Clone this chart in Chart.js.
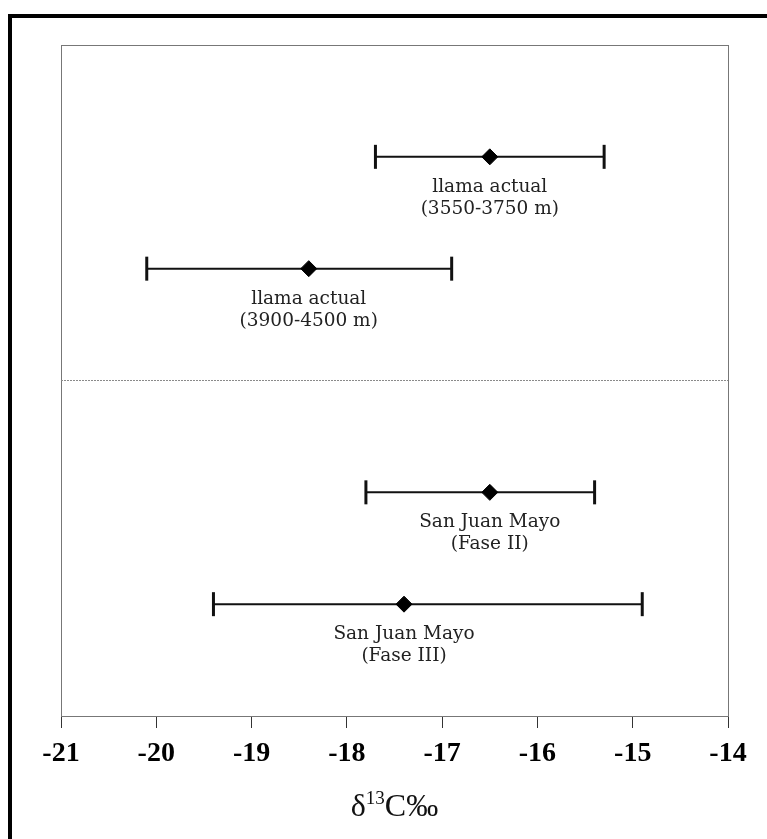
<!DOCTYPE html>
<html lang="es">
<head>
<meta charset="UTF-8">
<title>δ13C llama actual / San Juan Mayo</title>
<script src="https://cdn.jsdelivr.net/npm/chart.js"></script>
<style>
  html, body { margin: 0; padding: 0; background: #fff; overflow: hidden; }
  .frame {
    position: absolute; left: 8px; top: 14px;
    width: 755px; height: 821px;
    border-left: 4px solid #000; border-top: 4px solid #000;
  }
  #chart { position: absolute; left: 0; top: 0; }
</style>
</head>
<body>
<div class="frame"></div>
<canvas id="chart" width="767" height="839"></canvas>
<script>
// values (δ13C ‰, mean and range)
const groups = ['llama actual', 'llama actual', 'San Juan Mayo', 'San Juan Mayo'];
const subLabels = ['(3550-3750 m)', '(3900-4500 m)', '(Fase II)', '(Fase III)'];
const rows = [1, 2, 4, 5];
const means = [-16.5, -18.4, -16.5, -17.4];
const lows = [-17.7, -20.1, -17.8, -19.4];
const highs = [-15.3, -16.9, -15.4, -14.9];
const xTicks = [-21, -20, -19, -18, -17, -16, -15, -14];
const dividerRow = 3;

const serif = "'Liberation Serif', 'Times New Roman', serif";

// frame around plot area
const framePlugin = {
    id: 'frame',
    beforeDatasetsDraw(chart) {
        const a = chart.chartArea;
        const ctx = chart.ctx;
        ctx.save();
        ctx.strokeStyle = '#777';
        ctx.lineWidth = 1;
        ctx.strokeRect(a.left + 0.5, a.top + 0.5, a.right - a.left, a.bottom - a.top);
        ctx.restore();
    }
};

// text under every bar
const labelPlugin = {
    id: 'barLabels',
    afterDatasetsDraw(chart) {
        const ctx = chart.ctx;
        const xs = chart.scales.x, ys = chart.scales.y;
        ctx.save();
        ctx.fillStyle = '#222';
        ctx.font = "18.5px 'DejaVu Serif', serif";
        ctx.textAlign = 'center';
        ctx.textBaseline = 'alphabetic';
        rows.forEach((r, i) => {
            const x = xs.getPixelForValue(means[i]);
            const y = ys.getPixelForValue(r) + 35;
            ctx.fillText(groups[i], x, y);
            ctx.fillText(subLabels[i], x, y + 22);
        });
        ctx.restore();
    }
};

// axis title with superscript 13
const titlePlugin = {
    id: 'axisTitle',
    afterDraw(chart) {
        const ctx = chart.ctx;
        const a = chart.chartArea;
        const big = '32px ' + serif, small = '19px ' + serif;
        const parts = [['δ', big, 0], ['13', small, -12], ['C‰', big, 0]];
        ctx.save();
        ctx.fillStyle = '#111';
        ctx.textBaseline = 'alphabetic';
        let w = 0;
        parts.forEach(p => { ctx.font = p[1]; w += ctx.measureText(p[0]).width; });
        let x = (a.left + a.right) / 2 - w / 2;
        const y = 816;
        parts.forEach(p => {
            ctx.font = p[1];
            ctx.fillText(p[0], x, y + p[2]);
            x += ctx.measureText(p[0]).width;
        });
        ctx.restore();
    }
};

const barSets = rows.map((r, i) => ({
    data: [{x: lows[i], y: r}, {x: highs[i], y: r}],
    showLine: true,
    borderColor: '#111',
    borderWidth: 2,
    pointStyle: 'line',
    pointRotation: 90,
    pointRadius: 12,
    pointHoverRadius: 12,
    pointBorderWidth: 3,
    pointBorderColor: '#111'
}));

new Chart(document.getElementById('chart'), {
    type: 'scatter',
    data: {
        datasets: [
            {
                data: rows.map((r, i) => ({x: means[i], y: r})),
                pointStyle: 'rectRot',
                pointRadius: 8,
                pointHoverRadius: 8,
                backgroundColor: '#000',
                borderColor: '#000',
                borderWidth: 1
            },
            ...barSets,
            {
                data: [{x: xTicks[0], y: dividerRow}, {x: xTicks[xTicks.length - 1], y: dividerRow}],
                showLine: true,
                borderColor: '#8a8a8a',
                borderWidth: 1,
                borderDash: [2, 1],
                pointRadius: 0
            }
        ]
    },
    options: {
        responsive: false,
        animation: false,
        devicePixelRatio: 1,
        layout: { padding: { left: 61, right: 39, top: 45, bottom: 0 } },
        plugins: { legend: { display: false }, tooltip: { enabled: false } },
        scales: {
            x: {
                type: 'linear',
                min: -21,
                max: -14,
                afterBuildTicks: s => { s.ticks = xTicks.map(v => ({value: v})); },
                afterFit: s => { s.height = 123; },
                ticks: {
                    color: '#000',
                    padding: 9,
                    maxRotation: 0,
                    font: {family: serif, size: 28, weight: 'bold'}
                },
                grid: { drawOnChartArea: false, drawTicks: true, tickLength: 12, color: '#333' },
                border: { display: true, color: '#444' }
            },
            y: { type: 'linear', display: false, min: 0, max: 6, reverse: true }
        }
    },
    plugins: [framePlugin, labelPlugin, titlePlugin]
});
</script>
</body>
</html>
